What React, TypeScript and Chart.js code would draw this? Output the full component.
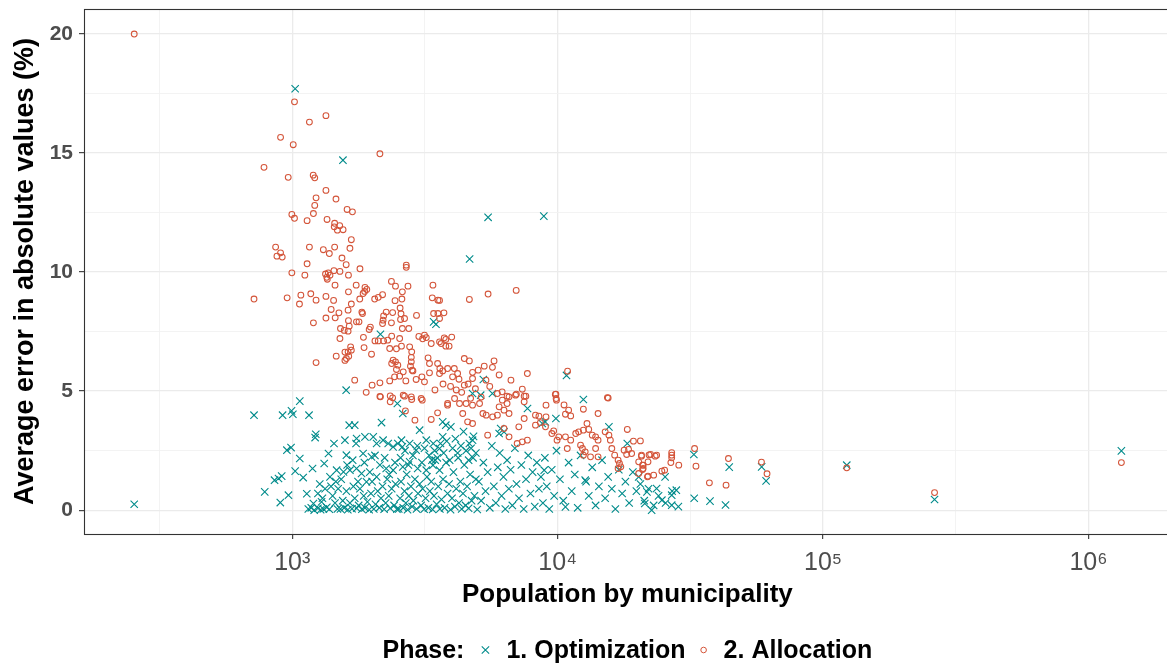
import React, { useEffect, useRef } from "react";
import { Chart, registerables } from "chart.js";

Chart.register(...registerables);

// ---------- data ----------
const optPopulation = [
  254, 718, 788, 858, 888, 902, 913, 920, 955, 968, 990, 994, 1006, 1026, 1026, 1068, 1068, 1100, 1135, 1150,
  1157, 1180, 1193, 1202, 1210, 1220, 1227, 1250, 1250, 1270, 1280, 1290, 1300, 1310, 1320, 1330, 1350, 1370, 1380, 1388,
  1400, 1420, 1437, 1450, 1460, 1470, 1480, 1490, 1520, 1530, 1550, 1553, 1560, 1570, 1580, 1597, 1600, 1600, 1610, 1620,
  1640, 1650, 1650, 1680, 1690, 1700, 1720, 1720, 1740, 1748, 1748, 1750, 1770, 1780, 1800, 1825, 1830, 1850, 1860, 1870,
  1880, 1880, 1905, 1920, 1950, 1960, 1980, 1990, 2000, 2020, 2030, 2050, 2060, 2080, 2080, 2100, 2130, 2140, 2150, 2160,
  2170, 2190, 2200, 2220, 2230, 2250, 2260, 2280, 2300, 2310, 2320, 2340, 2370, 2400, 2400, 2420, 2440, 2450, 2480, 2490,
  2500, 2520, 2550, 2560, 2570, 2580, 2600, 2610, 2610, 2620, 2650, 2660, 2680, 2700, 2720, 2740, 2750, 2770, 2770, 2800,
  2830, 2850, 2860, 2900, 2930, 2940, 2960, 2970, 2980, 3020, 3020, 3060, 3080, 3100, 3140, 3150, 3180, 3200, 3200, 3220,
  3260, 3280, 3300, 3340, 3360, 3380, 3390, 3400, 3410, 3420, 3440, 3460, 3480, 3500, 3520, 3550, 3590, 3590, 3600, 3620,
  3650, 3690, 3690, 3700, 3720, 3750, 3790, 3800, 3820, 3850, 3900, 3920, 3950, 3960, 4000, 4020, 4050, 4100, 4120, 4150,
  4200, 4220, 4250, 4300, 4320, 4350, 4400, 4420, 4450, 4500, 4520, 4560, 4620, 4620, 4650, 4660, 4680, 4720, 4740, 4780,
  4780, 4800, 4820, 4860, 4920, 4920, 4980, 5050, 5130, 5150, 5250, 5250, 5350, 5450, 5470, 5550, 5650, 5680, 5750, 5850,
  5950, 6020, 6050, 6100, 6150, 6250, 6280, 6350, 6450, 6550, 6650, 6750, 6900, 7000, 7150, 7300, 7450, 7600, 7700, 7750,
  7900, 8050, 8200, 8350, 8500, 8650, 8750, 8800, 8870, 8900, 8950, 8990, 9100, 9300, 9500, 9700, 9850, 9900, 10200, 10500,
  10700, 10800, 11000, 11300, 11600, 11900, 12200, 12500, 12700, 12800, 13100, 13500, 13900, 14300, 14700, 15100, 15500, 15600, 16000, 16500,
  17000, 17500, 18000, 18300, 18600, 19200, 19800, 20200, 20500, 21200, 21300, 21700, 22000, 22600, 23000, 23600, 24000, 24700, 25400, 25500,
  26900, 26900, 27000, 28000, 28500, 32600, 32700, 37500, 42900, 44300, 58700, 61000, 122800, 263000, 1330000,
];
const optError = [
  0.25, 3.99, 0.77, 1.26, 1.33, 0.32, 1.43, 3.99, 2.52, 0.63, 2.63, 4.17, 4.03, 17.7, 1.64, 4.58, 2.17, 1.37, 0.69, 0.05,
  3.99, 0.1, 1.75, 0.28, 0.0, 3.05, 3.19, 0.08, 0.7, 1.1, 0.02, 0.35, 0.5, 0.05, 1.96, 0.9, 0.12, 2.38, 0.04, 1.4,
  1.0, 0.6, 2.8, 0.3, 1.2, 1.68, 0.05, 0.9, 0.05, 1.3, 0.4, 14.7, 1.61, 0.1, 2.94, 5.04, 2.31, 0.8, 1.9, 0.02,
  3.57, 1.68, 0.3, 0.06, 2.1, 1.0, 3.57, 0.5, 2.8, 3.01, 1.75, 0.08, 1.2, 0.2, 0.9, 1.54, 0.04, 2.38, 0.6, 2.0,
  3.08, 0.1, 1.19, 0.35, 0.02, 1.6, 0.7, 2.24, 1.2, 3.08, 0.05, 2.3, 0.25, 2.8, 1.4, 0.8, 0.1, 1.9, 7.39, 0.5,
  3.68, 1.0, 2.94, 0.04, 2.2, 0.3, 1.75, 1.3, 2.8, 0.6, 1.5, 0.08, 0.9, 2.66, 1.68, 0.2, 2.0, 1.1, 0.04, 4.48,
  2.8, 0.05, 0.5, 2.2, 1.2, 2.94, 2.66, 1.82, 4.06, 0.1, 0.8, 2.5, 0.3, 1.5, 0.02, 1.9, 0.6, 2.8, 2.03, 1.0,
  0.15, 2.3, 0.4, 1.3, 2.52, 0.05, 2.7, 1.75, 0.7, 3.36, 1.1, 0.2, 2.0, 0.9, 0.04, 2.6, 0.5, 2.94, 1.68, 1.4,
  0.1, 2.3, 0.8, 1.2, 2.1, 0.03, 1.89, 2.8, 7.91, 0.6, 2.5, 2.1, 7.81, 0.25, 2.2, 1.0, 2.59, 1.68, 0.05, 2.8,
  0.45, 3.08, 3.71, 1.3, 2.4, 0.1, 3.57, 2.0, 2.9, 0.7, 1.1, 2.1, 0.02, 3.5, 0.5, 2.6, 1.6, 0.15, 3.0, 0.9,
  2.4, 2.2, 0.3, 1.2, 2.7, 0.05, 0.7, 3.3, 1.9, 0.2, 2.5, 1.0, 0.08, 2.1, 2.8, 10.55, 1.5, 2.6, 0.4, 2.94,
  4.9, 2.2, 3.1, 0.6, 1.3, 2.4, 0.03, 1.2, 4.83, 0.4, 2.0, 5.49, 0.8, 1.6, 12.3, 0.1, 2.7, 4.9, 1.0, 0.3,
  1.8, 3.22, 2.4, 3.43, 0.6, 1.4, 3.29, 0.05, 2.1, 0.9, 1.7, 0.2, 2.6, 1.1, 0.5, 1.9, 0.05, 1.3, 4.27, 2.3,
  0.7, 1.6, 0.15, 2.0, 0.9, 1.4, 3.64, 0.3, 12.35, 1.68, 2.2, 3.71, 1.0, 0.05, 1.7, 0.6, 3.85, 2.5, 1.3, 0.4,
  0.14, 5.66, 2.0, 0.8, 1.5, 0.1, 2.3, 4.65, 1.26, 1.2, 0.6, 1.8, 0.2, 1.0, 2.1, 0.5, 1.4, 3.5, 0.9, 0.05,
  1.7, 0.7, 1.2, 2.8, 0.3, 1.6, 0.8, 1.4, 1.1, 0.4, 0.28, 0.77, 0.9, 0.0, 0.2, 0.91, 0.6, 0.42, 1.4, 0.3,
  0.63, 0.21, 0.8, 0.84, 0.15, 2.34, 0.5, 0.38, 0.22, 1.81, 1.82, 1.23, 1.89, 0.45, 2.49,
];

const allocPopulation = [
  254, 718, 783, 866, 876, 904, 904, 917, 957, 966, 997, 997, 1009, 1020, 1020, 1065, 1078, 1116, 1138, 1138,
  1161, 1161, 1175, 1200, 1202, 1202, 1216, 1216, 1230, 1230, 1230, 1310, 1335, 1340, 1340, 1340, 1340, 1350, 1353, 1356,
  1367, 1380, 1388, 1402, 1432, 1436, 1440, 1445, 1445, 1450, 1452, 1462, 1465, 1480, 1500, 1510, 1513, 1513, 1520, 1540,
  1555, 1570, 1580, 1580, 1597, 1600, 1610, 1624, 1624, 1624, 1629, 1629, 1629, 1633, 1640, 1650, 1660, 1670, 1670, 1670,
  1686, 1720, 1742, 1746, 1785, 1797, 1800, 1830, 1840, 1850, 1855, 1865, 1875, 1880, 1900, 1910, 1950, 1970, 1990, 2000,
  2045, 2050, 2110, 2110, 2140, 2140, 2140, 2150, 2190, 2190, 2200, 2210, 2210, 2260, 2290, 2330, 2330, 2340, 2340, 2365,
  2365, 2370, 2370, 2390, 2390, 2400, 2430, 2440, 2450, 2450, 2470, 2470, 2500, 2540, 2540, 2550, 2560, 2570, 2580, 2590,
  2600, 2600, 2620, 2620, 2650, 2650, 2670, 2680, 2690, 2690, 2730, 2750, 2770, 2790, 2810, 2810, 2810, 2820, 2820, 2830,
  2850, 2900, 2930, 2940, 3000, 3060, 3080, 3090, 3100, 3150, 3150, 3200, 3250, 3290, 3290, 3340, 3340, 3370, 3390, 3410,
  3450, 3530, 3530, 3540, 3540, 3590, 3590, 3590, 3590, 3600, 3640, 3690, 3700, 3730, 3740, 3790, 3790, 3850, 3850, 3850,
  3900, 3950, 3990, 4020, 4080, 4090, 4150, 4200, 4250, 4270, 4350, 4390, 4450, 4450, 4520, 4580, 4600, 4650, 4650, 4700,
  4780, 4780, 4780, 4780, 4900, 5020, 5080, 5150, 5230, 5290, 5370, 5380, 5450, 5470, 5550, 5680, 5690, 5760, 5930, 5930,
  6020, 6020, 6180, 6190, 6280, 6280, 6450, 6450, 6560, 6560, 6560, 6670, 6940, 6980, 6990, 7040, 7140, 7360, 7360, 7480,
  7480, 7480, 7590, 7690, 7690, 8250, 8250, 8500, 8610, 9000, 9040, 9040, 9510, 9660, 9800, 9850, 9870, 9900, 9950, 10100,
  10570, 10700, 10700, 10870, 10900, 11000, 11200, 11200, 11700, 12000, 12200, 12400, 12500, 12500, 12500, 12700, 12900, 13100, 13300, 13500,
  13900, 13900, 14200, 14200, 14200, 15100, 15400, 15500, 15600, 15800, 16000, 16400, 16900, 16900, 17100, 17300, 17800, 18200, 18300, 18500,
  19000, 19300, 20200, 20200, 20500, 20700, 20700, 20900, 20900, 21000, 21000, 21800, 21900, 21900, 22100, 22400, 23000, 23300, 23600, 24700,
  25300, 26700, 26900, 26900, 26900, 28600, 32800, 33200, 37300, 43100, 44000, 58600, 61500, 122800, 263000, 1330000,
];
const allocError = [
  20.0, 8.87, 14.4, 11.05, 10.67, 10.81, 15.66, 10.63, 8.92, 13.98, 12.42, 9.97, 15.35, 17.15, 12.26, 8.66, 9.03, 9.87, 12.16, 10.35,
  16.3, 11.05, 9.09, 14.07, 12.46, 7.87, 13.96, 12.8, 13.12, 8.82, 6.2, 10.94, 9.92, 16.57, 13.43, 8.98, 8.07, 9.78, 12.21, 9.7,
  9.97, 10.78, 9.87, 8.43, 8.81, 10.06, 11.9, 12.05, 11.05, 9.45, 8.08, 13.07, 6.47, 11.76, 8.29, 11.95, 10.03, 7.21, 7.63, 10.59,
  11.78, 7.55, 6.64, 6.29, 10.31, 6.37, 12.63, 7.52, 8.4, 6.65, 9.87, 9.17, 7.96, 6.47, 7.73, 11.0, 6.86, 11.36, 8.66, 6.72,
  12.53, 5.46, 9.45, 7.91, 7.91, 8.87, 10.14, 8.32, 8.26, 9.1, 7.26, 6.83, 9.19, 9.36, 4.95, 9.27, 7.59, 7.69, 6.55, 5.25,
  8.87, 7.11, 8.94, 7.11, 14.97, 5.35, 4.78, 4.76, 9.05, 7.84, 7.98, 8.16, 7.11, 8.32, 7.14, 6.79, 5.43, 4.8, 4.55, 9.61,
  7.87, 7.31, 6.16, 8.3, 4.72, 6.3, 5.6, 8.8, 9.41, 6.23, 6.78, 5.91, 6.09, 7.21, 5.63, 8.49, 8.01, 8.25, 6.89, 8.87,
  9.17, 7.63, 5.81, 4.83, 8.05, 4.79, 4.17, 5.43, 10.29, 10.2, 9.41, 7.63, 6.86, 6.05, 6.42, 6.23, 4.76, 6.65, 4.65, 5.88,
  5.85, 3.78, 5.49, 8.18, 7.3, 4.69, 5.6, 4.62, 7.2, 7.35, 5.39, 7.25, 6.4, 6.16, 5.77, 7.0, 3.81, 8.92, 9.45, 8.26,
  5.05, 6.16, 4.09, 8.82, 8.26, 7.07, 8.81, 8.05, 5.74, 5.95, 7.0, 5.85, 5.3, 8.29, 7.24, 7.17, 6.89, 5.95, 4.41, 4.48,
  6.89, 5.2, 7.27, 5.6, 5.95, 4.69, 5.05, 5.74, 5.5, 4.48, 4.95, 4.06, 6.37, 5.25, 4.48, 3.71, 5.3, 8.85, 6.27, 4.7,
  5.79, 5.53, 4.41, 3.64, 5.1, 5.88, 4.48, 4.75, 4.06, 6.05, 5.46, 3.99, 3.15, 9.08, 5.2, 6.0, 3.92, 6.27, 4.9, 3.99,
  5.68, 4.34, 4.97, 4.62, 4.2, 3.43, 4.79, 4.48, 4.76, 4.06, 3.08, 5.46, 4.83, 9.23, 4.87, 2.8, 3.5, 5.08, 2.87, 4.79,
  4.55, 3.85, 4.79, 5.74, 2.94, 3.99, 3.57, 3.95, 3.68, 3.5, 4.41, 3.92, 3.22, 3.33, 4.86, 4.87, 4.69, 4.62, 2.94, 3.08,
  4.42, 4.03, 3.08, 2.59, 5.84, 4.2, 3.96, 2.94, 3.22, 3.29, 2.73, 2.59, 4.24, 3.36, 2.31, 2.45, 3.64, 3.39, 2.24, 3.15,
  3.08, 2.59, 4.06, 2.94, 2.24, 3.29, 4.73, 4.71, 3.15, 2.94, 2.59, 2.31, 2.1, 1.75, 1.96, 1.82, 2.52, 2.34, 3.39, 2.55,
  2.38, 2.9, 2.03, 1.54, 2.91, 2.31, 2.27, 1.89, 1.71, 1.89, 1.75, 1.4, 2.03, 1.43, 2.32, 2.34, 1.47, 2.27, 2.31, 1.64,
  1.68, 2.0, 2.42, 2.31, 2.2, 1.89, 2.59, 1.85, 1.15, 1.05, 2.17, 2.02, 1.53, 1.78, 0.74, 2.0,
];

const xMajorTicks = [1e3, 1e4, 1e5, 1e6];
const xTickLabels = ["10³", "10⁴", "10⁵", "10⁶"];
const xMinorTicks = [316.23, 3162.3, 31623, 316228];
const yMajorTicks = [0, 5, 10, 15, 20];
const yMinorTicks = [2.5, 7.5, 12.5, 17.5];

const legendTitle = "Phase:";
const seriesNames = ["1. Optimization", "2. Allocation"];
const xTitle = "Population by municipality";
const yTitle = "Average error in absolute values (%)";

const TEAL = "#008B8B";
const RED = "#D4553A";
const FONT = '"Liberation Sans", Arial, Helvetica, sans-serif';

const toPoints = (xs: number[], ys: number[]) => xs.map((x, i) => ({ x, y: ys[i] }));

export default function App() {
  const canvasRef = useRef<HTMLCanvasElement | null>(null);

  useEffect(() => {
    document.body.style.margin = "0";
    document.body.style.overflow = "hidden";
    const canvas = canvasRef.current;
    if (!canvas) return;

    const frameAndLegend = {
      id: "frameAndLegend",
      afterDraw(chart: any) {
        const { ctx, chartArea } = chart;
        const { left, right, top, bottom } = chartArea;
        ctx.save();
        ctx.strokeStyle = "#333333";
        ctx.lineWidth = 1.1;
        ctx.strokeRect(Math.round(left) + 0.5, Math.round(top) + 0.5, Math.round(right - left), Math.round(bottom - top));

        // legend
        ctx.font = `bold 25px ${FONT}`;
        ctx.fillStyle = "#000000";
        ctx.textBaseline = "alphabetic";
        ctx.textAlign = "left";
        const w1 = ctx.measureText(legendTitle).width;
        const w2 = ctx.measureText(seriesNames[0]).width;
        const w3 = ctx.measureText(seriesNames[1]).width;
        const total = w1 + 42 + w2 + 38 + w3;
        const cx = (left + right) / 2;
        let x = cx - total / 2;
        const base = 658;
        const symY = 650;
        ctx.fillText(legendTitle, x, base);
        x += w1 + 21;
        ctx.strokeStyle = TEAL;
        ctx.lineWidth = 1.1;
        ctx.beginPath();
        ctx.moveTo(x - 3.7, symY - 3.7);
        ctx.lineTo(x + 3.7, symY + 3.7);
        ctx.moveTo(x - 3.7, symY + 3.7);
        ctx.lineTo(x + 3.7, symY - 3.7);
        ctx.stroke();
        x += 21;
        ctx.fillText(seriesNames[0], x, base);
        x += w2 + 18;
        ctx.strokeStyle = RED;
        ctx.lineWidth = 1;
        ctx.beginPath();
        ctx.arc(x, symY, 2.8, 0, Math.PI * 2);
        ctx.stroke();
        x += 20;
        ctx.fillText(seriesNames[1], x, base);
        ctx.restore();
      },
    };

    const isXMajor = (v: number) => xMajorTicks.some((m) => Math.abs(m - v) / m < 1e-6);
    const isYMajor = (v: number) => yMajorTicks.includes(v);

    const chart = new Chart(canvas, {
      type: "scatter",
      data: {
        datasets: [
          {
            label: seriesNames[1],
            data: toPoints(allocPopulation, allocError),
            pointStyle: "circle",
            pointRadius: 2.9,
            pointBorderWidth: 1.05,
            borderColor: RED,
            backgroundColor: "rgba(0,0,0,0)",
            pointBackgroundColor: "rgba(0,0,0,0)",
            pointBorderColor: RED,
            order: 0,
          },
          {
            label: seriesNames[0],
            data: toPoints(optPopulation, optError),
            pointStyle: "crossRot",
            pointRadius: 5.2,
            pointBorderWidth: 1.1,
            borderColor: TEAL,
            backgroundColor: TEAL,
            pointBorderColor: TEAL,
            order: 1,
          },
        ],
      },
      options: {
        animation: false,
        responsive: false,
        devicePixelRatio: 1,
        layout: { padding: { top: 9, right: 2, bottom: 55, left: 0 } },
        plugins: {
          legend: { display: false },
          tooltip: { enabled: false },
        },
        scales: {
          x: {
            type: "logarithmic",
            min: 164.3,
            max: 2040000,
            afterBuildTicks: (scale: any) => {
              scale.ticks = [...xMinorTicks, ...xMajorTicks].sort((a, b) => a - b).map((v) => ({ value: v }));
            },
            afterFit: (scale: any) => {
              scale.height = 74;
              scale.paddingLeft = 0;
              scale.paddingRight = 0;
            },
            ticks: {
              autoSkip: false,
              maxRotation: 0,
              padding: 9,
              color: "#4D4D4D",
              font: { family: FONT, size: 25, weight: "normal", lineHeight: 1.2 },
              callback: (value: any) => {
                const i = xMajorTicks.findIndex((m) => Math.abs(m - Number(value)) / m < 1e-6);
                return i >= 0 ? xTickLabels[i] : "";
              },
            },
            grid: {
              color: (c: any) => (c.tick && isXMajor(c.tick.value) ? "#EBEBEB" : "#F2F2F2"),
              lineWidth: (c: any) => (c.tick && isXMajor(c.tick.value) ? 1.3 : 0.9),
              tickColor: (c: any) => (c.tick && isXMajor(c.tick.value) ? "#333333" : "rgba(0,0,0,0)"),
              tickLength: 5,
              tickWidth: 1.1,
              drawTicks: true,
            },
            border: { display: false },
            title: {
              display: true,
              text: xTitle,
              color: "#000000",
              font: { family: FONT, size: 26, weight: "bold", lineHeight: 1.0 },
              padding: { top: 0, bottom: 0 },
            },
          },
          y: {
            type: "linear",
            min: -1.0,
            max: 21.05,
            afterBuildTicks: (scale: any) => {
              scale.ticks = [...yMinorTicks, ...yMajorTicks].sort((a, b) => a - b).map((v) => ({ value: v }));
            },
            afterFit: (scale: any) => {
              scale.width = 84;
              scale.paddingTop = 0;
              scale.paddingBottom = 0;
            },
            ticks: {
              autoSkip: false,
              padding: 6,
              color: "#4D4D4D",
              font: { family: FONT, size: 21, weight: "bold" },
              callback: (value: any) => (isYMajor(Number(value)) ? String(value) : ""),
            },
            grid: {
              color: (c: any) => (c.tick && isYMajor(c.tick.value) ? "#EBEBEB" : "#F2F2F2"),
              lineWidth: (c: any) => (c.tick && isYMajor(c.tick.value) ? 1.3 : 0.9),
              tickColor: (c: any) => (c.tick && isYMajor(c.tick.value) ? "#333333" : "rgba(0,0,0,0)"),
              tickLength: 5,
              tickWidth: 1.1,
              drawTicks: true,
            },
            border: { display: false },
            title: {
              display: true,
              text: yTitle,
              color: "#000000",
              font: { family: FONT, size: 27, weight: "bold", lineHeight: 1.0 },
              padding: { top: 12, bottom: 0 },
            },
          },
        },
      },
      plugins: [frameAndLegend],
    } as any);

    return () => {
      chart.destroy();
    };
  }, []);

  return (
    <div style={{ width: 1167, height: 663, overflow: "hidden", position: "relative", background: "#ffffff" }}>
      <canvas ref={canvasRef} width={1177} height={663} style={{ display: "block" }} />
    </div>
  );
}
